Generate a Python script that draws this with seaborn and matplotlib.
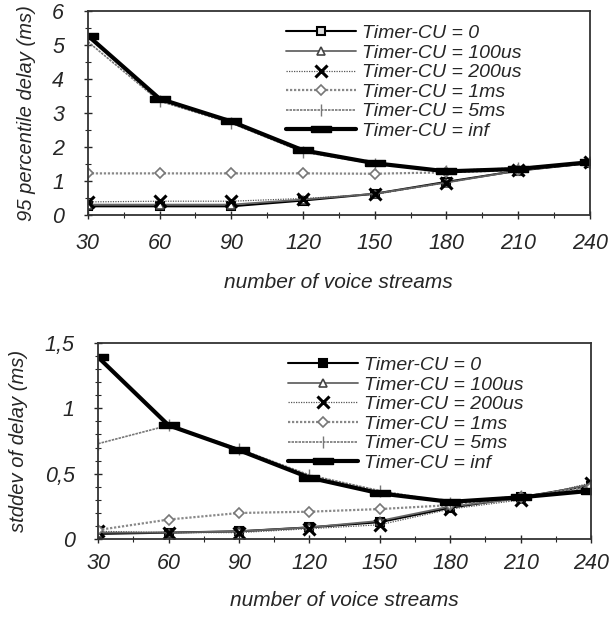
import matplotlib
matplotlib.use("Agg")
import matplotlib.pyplot as plt
from matplotlib.ticker import MultipleLocator
import seaborn as sns

sns.set_style("white")
plt.rcParams['font.family'] = ['Liberation Sans', 'DejaVu Sans']

streams = [30, 60, 90, 120, 150, 180, 210, 240]
labels = ["Timer-CU = 0", "Timer-CU = 100us", "Timer-CU = 200us",
          "Timer-CU = 1ms", "Timer-CU = 5ms", "Timer-CU = inf"]

# 95 percentile delay (ms)
p95_0 = [0.25, 0.25, 0.25, 0.42, 0.62, 0.97, 1.30, 1.52]
p95_100us = [0.30, 0.30, 0.30, 0.45, 0.62, 0.95, 1.30, 1.55]
p95_200us = [0.38, 0.40, 0.40, 0.48, 0.60, 0.95, 1.32, 1.55]
p95_1ms = [1.22, 1.22, 1.22, 1.22, 1.21, 1.25, 1.32, 1.52]
p95_5ms = [5.10, 3.35, 2.70, 1.85, 1.50, 1.30, 1.38, 1.55]
p95_inf = [5.28, 3.42, 2.75, 1.90, 1.52, 1.28, 1.35, 1.55]

# stddev of delay (ms)
sd_0 = [0.04, 0.05, 0.06, 0.09, 0.13, 0.24, 0.32, 0.41]
sd_100us = [0.05, 0.05, 0.06, 0.09, 0.14, 0.25, 0.31, 0.42]
sd_200us = [0.06, 0.05, 0.05, 0.08, 0.11, 0.23, 0.30, 0.43]
sd_1ms = [0.07, 0.15, 0.20, 0.21, 0.23, 0.26, 0.32, 0.40]
sd_5ms = [0.73, 0.87, 0.69, 0.49, 0.37, 0.28, 0.33, 0.38]
sd_inf = [1.39, 0.87, 0.68, 0.47, 0.35, 0.285, 0.32, 0.37]

bar_marker = [(-1.0, -0.35), (1.0, -0.35), (1.0, 0.35), (-1.0, 0.35), (-1.0, -0.35)]


def styles(filled_square):
    return [
        dict(color="black", lw=1.5, ls="-", marker="s", ms=6,
             mfc="black" if filled_square else "#dddddd", mec="black", mew=1.5),
        dict(color="#666666", lw=1.3, ls="-", marker="^", ms=6,
             mfc="white", mec="#444444", mew=1.2),
        dict(color="#555555", lw=0.9, ls=(0, (1, 1)), marker="x", ms=9,
             mfc="black", mec="black", mew=2.2),
        dict(color="#888888", lw=1.6, ls=(0, (1, 0.8)), marker="D", ms=5,
             mfc="white", mec="#777777", mew=1.2),
        dict(color="#777777", lw=1.2, ls=(0, (1.5, 0.6)), marker="|", ms=9,
             mfc="#777777", mec="#777777", mew=1.0),
        dict(color="black", lw=3.0, ls="-", marker=bar_marker, ms=14,
             mfc="black", mec="black", mew=1.0),
    ]


def draw(ax, series, ylabel, ylim, major, minor, yfmt, filled_square,
         xpad, xlabelpad):
    for lab, vals, st in zip(labels, series, styles(filled_square)):
        sns.lineplot(x=streams, y=vals, ax=ax, label=lab, color=st["color"],
                     linewidth=st["lw"], linestyle=st["ls"], marker=st["marker"],
                     markersize=st["ms"], markerfacecolor=st["mfc"],
                     markeredgecolor=st["mec"], markeredgewidth=st["mew"])
    ax.set_xlim(30, 240)
    ax.set_ylim(*ylim)
    ax.set_xticks(streams)
    ax.xaxis.set_minor_locator(MultipleLocator(15))
    ax.yaxis.set_major_locator(MultipleLocator(major))
    ax.yaxis.set_minor_locator(MultipleLocator(minor))
    ax.set_yticklabels([yfmt(v) for v in ax.get_yticks()])
    ax.tick_params(axis="both", which="major", direction="inout", length=6,
                   width=1, labelsize=15.5, bottom=True, left=True)
    ax.tick_params(axis="x", which="major", pad=xpad)
    ax.tick_params(axis="y", which="major", pad=14)
    ax.tick_params(axis="both", which="minor", direction="inout", length=4,
                   width=0.8, bottom=True, left=True)
    for lbl in ax.get_xticklabels() + ax.get_yticklabels():
        lbl.set_fontstyle("italic")
    for sp in ax.spines.values():
        sp.set_color("#333333")
        sp.set_linewidth(1.3)
    ax.set_xlabel("number of voice streams", fontsize=15, fontstyle="italic",
                  labelpad=xlabelpad)
    ax.set_ylabel(ylabel, fontsize=14.5, fontstyle="italic", labelpad=12)
    leg = ax.legend(loc="upper right", bbox_to_anchor=(0.895, 1.01), frameon=False,
                    handlelength=3.6, fontsize=14, labelspacing=0.1,
                    borderpad=0.3, handletextpad=0.3)
    for t in leg.get_texts():
        t.set_fontstyle("italic")


fig = plt.figure(figsize=(6.10, 6.19), dpi=100)
ax1 = fig.add_axes([0.144, 0.653, 0.823, 0.329])
ax2 = fig.add_axes([0.161, 0.129, 0.808, 0.317])

draw(ax1, [p95_0, p95_100us, p95_200us, p95_1ms, p95_5ms, p95_inf],
     "95 percentile delay (ms)", (0, 6), 1, 0.5, lambda v: f"{v:g}", False,
     10, 14)
draw(ax2, [sd_0, sd_100us, sd_200us, sd_1ms, sd_5ms, sd_inf],
     "stddev of delay (ms)", (0, 1.5), 0.5, 0.1,
     lambda v: f"{v:g}".replace(".", ","), True, 7, 12)

fig.savefig("out.png", dpi=100, facecolor="white")
